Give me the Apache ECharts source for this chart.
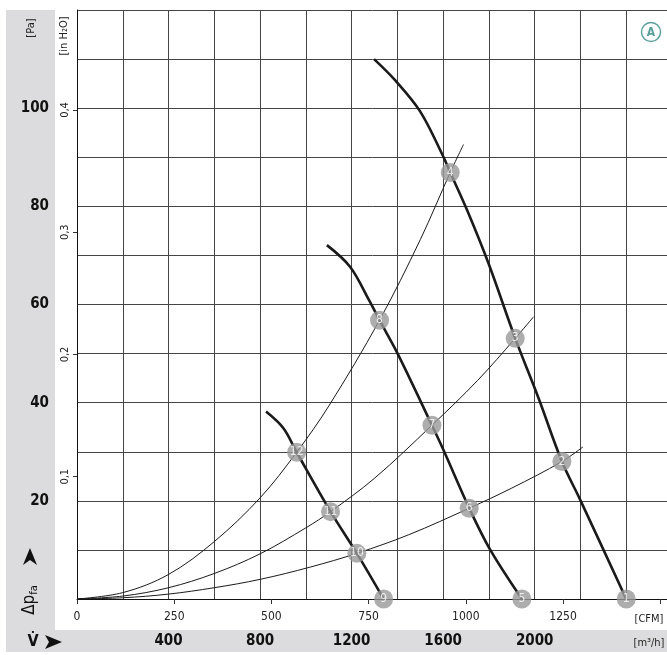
<!DOCTYPE html>
<html>
<head>
<meta charset="utf-8">
<script src="https://cdn.jsdelivr.net/npm/echarts@6/dist/echarts.min.js"></script>
<style>
html,body{margin:0;padding:0;background:#fff;}
#chart{width:667px;height:655px;}
</style>
</head>
<body>
<div id="chart"></div>
<script>
// ---- Data (x in m³/h, y in Pa) ----
const fanCurveA = [[1298,110.0],[1390,105.7],[1500,99.3],[1601,90.1],[1631,86.9],[1704,79.3],[1798,68.4],[1915,53.1],[2017,40.9],[2119,28.0],[2199,20.2],[2400,0]];
const fanCurveB = [[1092,72.1],[1193,67.7],[1275,61.0],[1322,56.8],[1400,50.1],[1551,35.4],[1601,30.4],[1714,18.5],[1806,10.0],[1944,0]];
const fanCurveC = [[826,38.2],[902,34.8],[960,29.9],[1108,17.8],[1223,9.3],[1340,0]];

const systemCurveHigh = [[0,0],[200,1.3],[400,5.0],[600,11.7],[800,20.6],[960,29.9],[1100,39.3],[1322,56.8],[1500,73.2],[1631,86.9],[1689,92.6]];
const systemCurveMid  = [[0,0],[200,0.6],[400,2.3],[600,5.2],[800,9.2],[1000,14.5],[1108,17.8],[1300,24.6],[1551,35.4],[1750,44.5],[1915,53.1],[1995,57.5]];
const systemCurveLow  = [[0,0],[200,0.25],[400,1.0],[600,2.3],[800,4.0],[1019,6.5],[1223,9.3],[1450,13.1],[1714,18.5],[1900,22.6],[2119,28.0],[2211,31.0]];

const operatingPoints = [
  [2400,0,'1'],[2119,28.0,'2'],[1915,53.1,'3'],[1631,86.9,'4'],
  [1944,0,'5'],[1714,18.5,'6'],[1551,35.4,'7'],[1322,56.8,'8'],
  [1340,0,'9'],[1223,9.3,'10'],[1108,17.8,'11'],[960,29.9,'12']
];

const m3hTickLabels = [400,800,1200,1600,2000];
const cfmTickLabels = [0,250,500,750,1000,1250];
const paTickLabels = [20,40,60,80,100];
const inh2oTickLabels = [0.1,0.2,0.3,0.4];

// unit conversions
const M3H_PER_CFM = 1.69901;
const PA_PER_INH2O = 249.089;
const X_MAX = 2600, Y_MAX = 120;

const FONT = "'Liberation Sans Narrow','DejaVu Sans Condensed','Roboto Condensed','Liberation Sans',sans-serif";
const GRID_COLOR = '#454545';
const INK = '#1a1a1a';

const chart = echarts.init(document.getElementById('chart'), null, {renderer:'canvas'});

function near(list, v, eps){ return list.some(t => Math.abs(t - v) < eps); }

const option = {
  animation: false,
  backgroundColor: '#fff',
  grid: {left: 77, top: 10, width: 595, height: 589, containLabel: false, outerBoundsMode: 'none'},
  xAxis: [
    {
      type: 'value', min: 0, max: X_MAX, interval: 200, position: 'bottom',
      axisLine: {show: true, onZero: false, lineStyle: {color: '#111', width: 1}},
      axisTick: {show: false},
      splitLine: {show: true, lineStyle: {color: GRID_COLOR, width: 1}},
      axisLabel: {
        margin: 35, fontSize: 15, fontWeight: 'bold', color: '#111', fontFamily: FONT,
        showMinLabel: true, showMaxLabel: true,
        formatter: v => near(m3hTickLabels, v, 1) ? String(Math.round(v)) : ''
      }
    },
    {
      type: 'value', min: 0, max: X_MAX / M3H_PER_CFM, interval: 250, position: 'bottom',
      axisLine: {show: false, onZero: false},
      axisTick: {show: true, length: 5, lineStyle: {color: '#333', width: 1}},
      splitLine: {show: false},
      axisLabel: {
        margin: 12, fontSize: 12, color: '#222', fontFamily: FONT,
        formatter: v => near(cfmTickLabels, v, 0.5) ? String(Math.round(v)) : ''
      }
    }
  ],
  yAxis: [
    {
      type: 'value', min: 0, max: Y_MAX, interval: 10, position: 'left',
      axisLine: {show: true, onZero: false, lineStyle: {color: '#111', width: 1}},
      axisTick: {show: false},
      splitLine: {show: true, lineStyle: {color: GRID_COLOR, width: 1}},
      axisLabel: {
        margin: 28, fontSize: 15, fontWeight: 'bold', color: '#111', fontFamily: FONT,
        formatter: v => near(paTickLabels, v, 0.5) ? String(Math.round(v)) : ''
      }
    },
    {
      type: 'value', min: 0, max: Y_MAX / PA_PER_INH2O, interval: 0.1, position: 'left', offset: 0,
      axisLine: {show: false, onZero: false},
      axisTick: {show: true, length: 4, lineStyle: {color: '#333', width: 1},
        customValues: inh2oTickLabels},
      splitLine: {show: false},
      axisLabel: {
        rotate: 90, margin: 6, fontSize: 11, color: '#222', fontFamily: FONT,
        customValues: inh2oTickLabels,
        formatter: v => near(inh2oTickLabels, v, 0.005) ? String(Math.round(v*10)/10).replace('.', ',') : ''
      }
    }
  ],
  series: [
    ...[fanCurveA, fanCurveB, fanCurveC].map(d => ({
      type: 'line', data: d, xAxisIndex: 0, yAxisIndex: 0, smooth: 0.35,
      showSymbol: false, symbol: 'none', z: 3,
      lineStyle: {color: INK, width: 2.6}
    })),
    ...[systemCurveHigh, systemCurveMid, systemCurveLow].map(d => ({
      type: 'line', data: d, xAxisIndex: 0, yAxisIndex: 0, smooth: 0.35,
      showSymbol: false, symbol: 'none', z: 3,
      lineStyle: {color: INK, width: 1}
    })),
    {
      type: 'scatter', data: operatingPoints, xAxisIndex: 0, yAxisIndex: 0,
      symbol: 'circle', symbolSize: 19, clip: false, z: 5,
      itemStyle: {color: '#999999'},
      label: {show: true, position: 'inside', formatter: p => p.data[2],
        color: '#fff', fontSize: 12, fontFamily: FONT}
    }
  ],
  graphic: [
    {type: 'rect', z: -10, silent: true, shape: {x: 6, y: 10, width: 49, height: 642}, style: {fill: '#dcdcde'}},
    {type: 'rect', z: -10, silent: true, shape: {x: 6, y: 630, width: 661, height: 22}, style: {fill: '#dcdcde'}},
    {type: 'text', x: 31, y: 28, rotation: Math.PI/2, z: 10,
      style: {text: '[Pa]', font: '11px ' + FONT, fill: '#222', textAlign: 'center', textVerticalAlign: 'middle'}},
    {type: 'text', x: 64, y: 36, rotation: Math.PI/2, z: 10,
      style: {text: '[in H₂O]', font: '11px ' + FONT, fill: '#222', textAlign: 'center', textVerticalAlign: 'middle'}},
    {type: 'text', x: 30, y: 600, rotation: Math.PI/2, z: 10,
      style: {text: '{a|Δp}{s|fa}', textAlign: 'center', textVerticalAlign: 'middle',
        rich: {a: {fontSize: 17, fontFamily: FONT, fill: '#111', color: '#111'},
               s: {fontSize: 11, fontFamily: FONT, fill: '#111', color: '#111', padding: [8,0,0,0]}}}},
    {type: 'polygon', z: 10, silent: true, shape: {points: [[30,548],[37,565],[30,560],[23,565]]}, style: {fill: '#111'}},
    {type: 'text', x: 33, y: 642, z: 10,
      style: {text: 'V̇', font: 'bold 16px ' + FONT, fill: '#111', textAlign: 'center', textVerticalAlign: 'middle'}},
    {type: 'polygon', z: 10, silent: true, shape: {points: [[62,642],[45,635],[49,642],[45,649]]}, style: {fill: '#111'}},
    {type: 'text', x: 649, y: 619, z: 10,
      style: {text: '[CFM]', font: '11px ' + FONT, fill: '#222', textAlign: 'center', textVerticalAlign: 'middle'}},
    {type: 'text', x: 649, y: 643, z: 10,
      style: {text: '[m³/h]', font: '11px ' + FONT, fill: '#222', textAlign: 'center', textVerticalAlign: 'middle'}},
    {type: 'circle', z: 10, silent: true, shape: {cx: 651, cy: 32, r: 9.5}, style: {fill: '#fff', stroke: '#5a9e9a', lineWidth: 1.4}},
    {type: 'text', x: 651, y: 32.5, z: 11,
      style: {text: 'A', font: 'bold 12px ' + FONT, fill: '#5a9e9a', textAlign: 'center', textVerticalAlign: 'middle'}}
  ]
};
chart.setOption(option);
</script>
</body>
</html>
